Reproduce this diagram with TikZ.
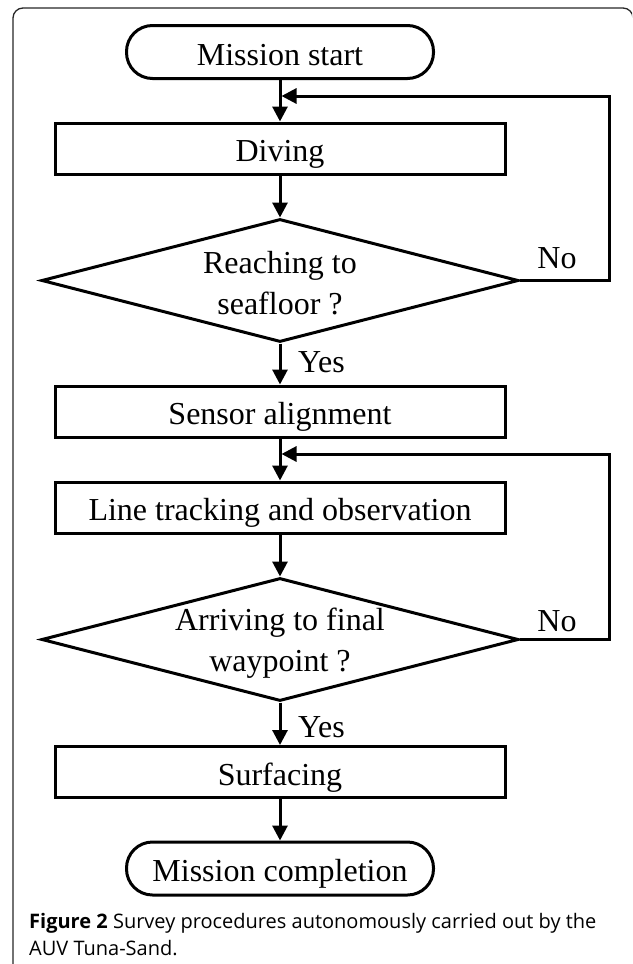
\documentclass[tikz,border=0pt]{standalone}
\usepackage{fontspec}
\setmainfont{Liberation Serif}
\newfontfamily\capfont{Open Sans}
\usetikzlibrary{shapes.geometric,arrows.meta}
\begin{document}
\begin{tikzpicture}[x=1pt,y=-1pt,
  txt/.style={font=\fontsize{32}{41}\selectfont},
  box/.style={txt,draw,line width=3pt,minimum width=450pt,minimum height=51pt,inner sep=0pt,text height=26pt,text depth=0pt},
  term/.style={txt,draw,line width=3pt,rounded corners=26pt,minimum width=307pt,minimum height=53pt,inner sep=0pt,text height=26pt,text depth=0pt},
  dec/.style={draw,diamond,aspect=3.88,line width=3pt,minimum width=477pt,minimum height=123pt,inner sep=0pt},
  dectext/.style={txt,inner sep=0pt,align=center},
  flow/.style={line width=3pt,-{Triangle[width=15pt,length=15pt]}},
  lbl/.style={txt,inner sep=0pt},
  caption/.style={font=\capfont\fontsize{20}{27}\selectfont,inner sep=0pt,anchor=base west}
]
\useasboundingbox (0,0) rectangle (632,964);
\begin{scope}
\clip (0,0) rectangle (632,964);
\draw[line width=1.3pt,black!85,rounded corners=10pt] (13,975) -- (13,8) -- (633,8) -- (633,975);
\end{scope}

\node[term] (start) at (280,52) {Mission start};
\node[box] (dive) at (280,148.5) {Diving};
\node[dec] (d1) at (280,280.5) {};
\node[dectext] (d1t) at (280,283) {Reaching to\\seafloor ?};
\node[box] (align) at (280,411.5) {Sensor alignment};
\node[box] (track) at (280,507.5) {Line tracking and observation};
\node[dec] (d2) at (280,639.5) {};
\node[dectext] (d2t) at (280,643) {Arriving to final\\waypoint ?};
\node[box] (surf) at (280,772) {Surfacing};
\node[term] (done) at (280,868.5) {Mission completion};

\coordinate (j1) at (281.5,96);
\coordinate (j2) at (281.5,454);
\coordinate (r1) at (609,280.5);
\coordinate (r2) at (609,639.5);

\draw[flow] (start.south) -- (dive.north);
\draw[flow] (dive.south) -- (d1.north);
\draw[flow] (d1.south) -- (align.north);
\draw[flow] (align.south) -- (track.north);
\draw[flow] (track.south) -- (d2.north);
\draw[flow] (d2.south) -- (surf.north);
\draw[flow] (surf.south) -- (done.north);

\draw[flow] (d1.east) -- (r1) -- (r1 |- j1) -- (j1);
\draw[flow] (d2.east) -- (r2) -- (r2 |- j2) -- (j2);

\node[lbl,anchor=base] (no1) at (557,268) {No};
\node[lbl,anchor=base] (no2) at (557,631) {No};
\node[lbl,anchor=base west] (yes1) at (298,372) {Yes};
\node[lbl,anchor=base west] (yes2) at (298,737) {Yes};

\node[caption] (cap1) at (29,928) {\textbf{Figure 2} Survey procedures autonomously carried out by the};
\node[caption] (cap2) at (29,955) {AUV Tuna-Sand.};
\end{tikzpicture}
\end{document}
